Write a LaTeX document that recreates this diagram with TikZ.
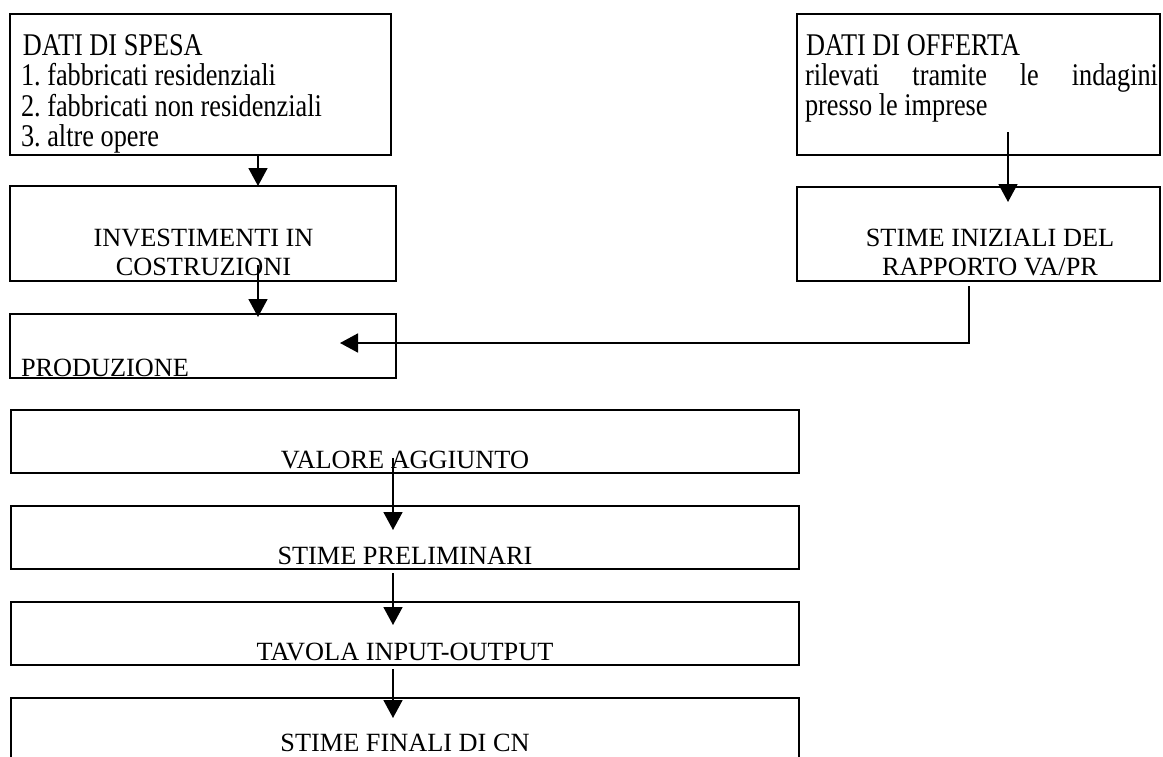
\documentclass[tikz,border=0pt]{standalone}
\usepackage{fontspec}
\setmainfont{Liberation Serif}
\usetikzlibrary{arrows.meta}
\frenchspacing
% taller lettering used in the two source boxes
\newcommand{\tallrow}[1]{\scalebox{1}[1.2]{#1}}
\begin{document}
\begin{tikzpicture}[x=1pt,y=-1pt,
  box/.style={draw, line width=2.6pt, inner sep=0pt, outer sep=0pt, anchor=north west},
  lbl/.style={inner sep=0pt, outer sep=0pt, font=\fontsize{26.3}{30}\selectfont},
  arr/.style={line width=1.7pt, -{Triangle[length=18pt,width=19pt]}}]
\useasboundingbox (0,0) rectangle (1163,756);
\clip (0,0) rectangle (1163,756);

% left column, upper part
\node[box, minimum width=381pt, minimum height=141pt] (b1) at (10,14) {};
\node[box, minimum width=386pt, minimum height=95pt]  (b2) at (10,186) {};
\node[box, minimum width=386pt, minimum height=64pt]  (b3) at (10,314) {};

% right column
\node[box, minimum width=363pt, minimum height=141pt] (b4) at (797,14) {};
\node[box, minimum width=363pt, minimum height=94pt]  (b5) at (797,187) {};

% lower chain
\node[box, minimum width=788pt, minimum height=63pt] (b6) at (11,410) {};
\node[box, minimum width=788pt, minimum height=63pt] (b7) at (11,506) {};
\node[box, minimum width=788pt, minimum height=63pt] (b8) at (11,602) {};
\node[box, minimum width=788pt, minimum height=63pt] (b9) at (11,698) {};

% texts
\node[lbl, anchor=base west] (t1a) at (23,55)  {\tallrow{DATI DI SPESA}};
\node[lbl, anchor=base west] (t1b) at (21,85.5) {\tallrow{1. fabbricati residenziali}};
\node[lbl, anchor=base west] (t1c) at (21,116) {\tallrow{2. fabbricati non residenziali}};
\node[lbl, anchor=base west] (t1d) at (21,146.5) {\tallrow{3. altre opere}};

\node[lbl, anchor=base] (t2a) at (203.5,246) {INVESTIMENTI IN};
\node[lbl, anchor=base] (t2b) at (203.5,275) {COSTRUZIONI};

\node[lbl, anchor=base west] (t3) at (21,376) {PRODUZIONE};

\node[lbl, anchor=base west] (t4a) at (806,55) {\tallrow{DATI DI OFFERTA}};
\node[lbl, anchor=base west] (t4b) at (805,85) {\tallrow{\makebox[353pt][s]{rilevati tramite le indagini}}};
\node[lbl, anchor=base west] (t4c) at (805,115) {\tallrow{presso le imprese}};

\node[lbl, anchor=base] (t5a) at (990,246) {STIME INIZIALI DEL};
\node[lbl, anchor=base] (t5b) at (990,275) {RAPPORTO VA/PR};

\node[lbl, anchor=base] (t6) at (405,468) {VALORE AGGIUNTO};
\node[lbl, anchor=base] (t7) at (405,564) {STIME PRELIMINARI};
\node[lbl, anchor=base] (t8) at (405,660) {TAVOLA INPUT-OUTPUT};
\node[lbl, anchor=base] (t9) at (405,751) {STIME FINALI DI CN};

% connector end points
\coordinate (xa) at (258,0);
\coordinate (a2s) at (258,265);
\coordinate (a2e) at (258,317);
\coordinate (a3s) at (1008,132);
\coordinate (a3e) at (1008,202);
\coordinate (a4s) at (969,286);
\coordinate (a4e) at (340,343);
\coordinate (a5s) at (393,458);
\coordinate (a5e) at (393,530);
\coordinate (a6s) at (393,573);
\coordinate (a6e) at (393,625);
\coordinate (a7s) at (393,669);
\coordinate (a7e) at (393,718);

% connectors
\draw[arr] (b1.south -| xa) -- (b2.north -| xa);
\draw[arr] (a2s) -- (a2e);
\draw[arr] (a3s) -- (a3e);
\draw[arr] (a4s) |- (a4e);
\draw[arr] (a5s) -- (a5e);
\draw[arr] (a6s) -- (a6e);
\draw[arr] (a7s) -- (a7e);
\end{tikzpicture}
\end{document}
